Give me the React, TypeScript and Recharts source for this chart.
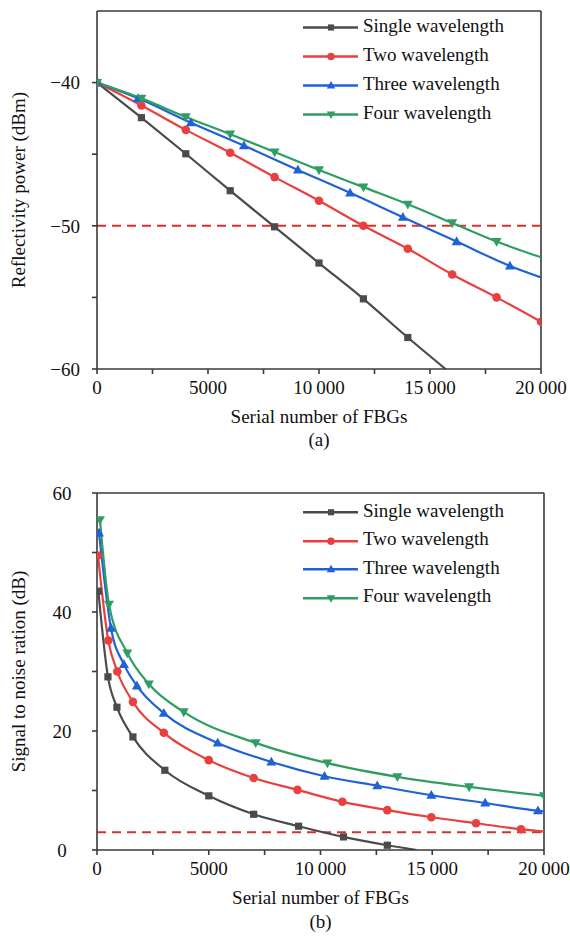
import React from 'react';
import { LineChart, Line, XAxis, YAxis, ReferenceLine } from 'recharts';

const FONT = "'Liberation Serif', 'DejaVu Serif', serif";
const AXIS = '#3a3a3a';
const DASH = '#d9302c';

// legend / series styling
const seriesNames = ['Single wavelength', 'Two wavelength', 'Three wavelength', 'Four wavelength'];
const seriesColors = ['#4b4b4b', '#e8403e', '#1f62d6', '#2f9e62'];
const seriesShapes = ['square', 'circle', 'up', 'down'];

// (a) reflectivity power, dBm
const topSingleX = [0, 2000, 4000, 6000, 8000, 10000, 12000, 14000, 15700];
const topSingleY = [-40, -42.45, -44.97, -47.55, -50.07, -52.6, -55.1, -57.8, -60];
const topTwoX = [0, 2000, 4000, 6000, 8000, 10000, 12000, 14000, 16000, 18000, 20000];
const topTwoY = [-40, -41.6, -43.3, -44.9, -46.6, -48.25, -50.0, -51.6, -53.4, -55.0, -56.7];
const topThreeX = [0, 1850, 4230, 6620, 9050, 11400, 13780, 16200, 18600, 20000];
const topThreeY = [-40, -41.1, -42.8, -44.4, -46.1, -47.7, -49.4, -51.1, -52.8, -53.6];
const topFourX = [0, 2000, 4000, 6000, 8000, 10000, 12000, 14000, 16000, 18000, 20000];
const topFourY = [-40, -41.1, -42.4, -43.6, -44.85, -46.1, -47.3, -48.5, -49.8, -51.1, -52.2];
const topThreshold = -50;
const xTicks = [0, 2500, 5000, 7500, 10000, 12500, 15000, 17500, 20000];
const topYTicks = [-60, -55, -50, -45, -40];

// (b) signal to noise ratio, dB
const botSingleX = [60, 490, 893, 1607, 3036, 5000, 7010, 9020, 11030, 12990, 14300];
const botSingleY = [43.5, 29.1, 24.0, 19.0, 13.4, 9.1, 6.0, 4.0, 2.2, 0.8, 0];
const botTwoX = [45, 506, 909, 1607, 2990, 5000, 7010, 8970, 10980, 12990, 14960, 16960, 18970, 20000];
const botTwoY = [49.5, 35.2, 30.0, 24.9, 19.7, 15.1, 12.1, 10.1, 8.1, 6.7, 5.5, 4.5, 3.5, 3.1];
const botThreeX = [90, 625, 1205, 1786, 2990, 5400, 7800, 10180, 12540, 14960, 17370, 19730, 20000];
const botThreeY = [53.3, 37.3, 31.2, 27.6, 23.0, 18.0, 14.8, 12.4, 10.8, 9.2, 7.9, 6.6, 6.5];
const botFourX = [134, 537, 1356, 2320, 3880, 7100, 10310, 13440, 16650, 20000];
const botFourY = [55.5, 41.3, 33.1, 27.9, 23.2, 18.0, 14.6, 12.3, 10.6, 9.1];
const botThreshold = 3;
const botYTicks = [0, 10, 20, 30, 40, 50, 60];

function makeRows(xs: number[], ys: number[], bare: number[] = []) {
  return xs.map((x, i) => ({ x, y: ys[i], bare: bare.includes(x) }));
}

const topData = [
  makeRows(topSingleX, topSingleY, [15700]),
  makeRows(topTwoX, topTwoY),
  makeRows(topThreeX, topThreeY, [20000]),
  makeRows(topFourX, topFourY, [20000]),
];
const botData = [
  makeRows(botSingleX, botSingleY, [14300]),
  makeRows(botTwoX, botTwoY, [20000]),
  makeRows(botThreeX, botThreeY, [20000]),
  makeRows(botFourX, botFourY),
];

const fmtX = (v: number) => {
  if (v % 5000 !== 0) return '';
  return v >= 10000 ? `${Math.floor(v / 1000)}\u2009${String(v % 1000).padStart(3, '0')}` : String(v);
};

function Marker({ shape, color, cx, cy, s = 1 }: any) {
  if (shape === 'square') return <rect x={cx - 3.6 * s} y={cy - 3.6 * s} width={7.2 * s} height={7.2 * s} fill={color} />;
  if (shape === 'circle') return <circle cx={cx} cy={cy} r={4.3 * s} fill={color} />;
  const d = shape === 'up' ? 1 : -1;
  const pts = `${cx},${cy - 5.2 * s * d} ${cx - 5 * s},${cy + 3.6 * s * d} ${cx + 5 * s},${cy + 3.6 * s * d}`;
  return <polygon points={pts} fill={color} />;
}

const dotFor = (shape: string, color: string) => (props: any) => {
  const { cx, cy, payload, index } = props;
  const key = `${shape}-${index}`;
  if (payload?.bare || cx == null || cy == null) return <g key={key} />;
  return <Marker key={key} shape={shape} color={color} cx={cx} cy={cy} />;
};

// drawn outside the chart so it does not take plot space
function LegendBox({ top, rowHeight }: { top: number; rowHeight: number }) {
  return (
    <div style={{ position: 'absolute', left: 303, top, fontFamily: FONT, fontSize: 19, color: '#111' }}>
      {seriesNames.map((name, i) => (
        <div key={name} style={{ display: 'flex', alignItems: 'center', height: rowHeight }}>
          <svg width={60} height={rowHeight} style={{ flex: 'none' }}>
            <line x1={0} x2={55} y1={rowHeight / 2} y2={rowHeight / 2} stroke={seriesColors[i]} strokeWidth={2.4} />
            <Marker shape={seriesShapes[i]} color={seriesColors[i]} cx={28} cy={rowHeight / 2} s={0.85} />
          </svg>
          <span style={{ lineHeight: 1, position: 'relative', top: -2, whiteSpace: 'nowrap' }}>{name}</span>
        </div>
      ))}
    </div>
  );
}

function YTitle({ viewBox, text }: any) {
  const cy = viewBox.y + viewBox.height / 2;
  return (
    <text x={25} y={cy} transform={`rotate(-90, 25, ${cy})`} textAnchor="middle"
      style={{ fontFamily: FONT, fontSize: 19 }} fill="#111">{text}</text>
  );
}

function XTitle({ viewBox, text, sub, gap }: any) {
  const cx = viewBox.x + viewBox.width / 2;
  return (
    <g style={{ fontFamily: FONT, fontSize: 19 }} fill="#111">
      <text x={cx} y={viewBox.y + 54} textAnchor="middle">{text}</text>
      <text x={cx} y={viewBox.y + gap} textAnchor="middle">{sub}</text>
    </g>
  );
}

const tickStyle = { fill: '#111', fontSize: 19, style: { fontFamily: FONT } };

function Panel({ data, height, margin, plotH, yDomain, yTicks, fmtY, yTickAnchor, yTickMargin, threshold, yTitle, sub, subGap }: any) {
  return (
    <LineChart width={570} height={height} margin={margin}>
      <XAxis dataKey="x" type="number" domain={[0, 20000]} ticks={xTicks} tickFormatter={fmtX}
        allowDataOverflow interval={0} height={height - margin.top - plotH} stroke={AXIS} strokeWidth={1.6}
        tickSize={5} tickMargin={7} tick={tickStyle}
        label={<XTitle text="Serial number of FBGs" sub={sub} gap={subGap} />} />
      <YAxis type="number" domain={yDomain} ticks={yTicks} tickFormatter={fmtY} allowDataOverflow interval={0}
        width={97} stroke={AXIS} strokeWidth={1.6} tickSize={5} tickMargin={yTickMargin}
        tick={{ ...tickStyle, textAnchor: yTickAnchor }}
        label={<YTitle text={yTitle} />} />
      <ReferenceLine y={yDomain[1]} stroke={AXIS} strokeWidth={1.6} />
      <ReferenceLine x={20000} stroke={AXIS} strokeWidth={1.6} />
      <ReferenceLine y={threshold} stroke={DASH} strokeWidth={2} strokeDasharray="9 6" />
      {data.map((rows: any[], i: number) => (
        <Line key={seriesNames[i]} data={rows} dataKey="y" name={seriesNames[i]} type="monotone"
          stroke={seriesColors[i]} strokeWidth={2.2} dot={dotFor(seriesShapes[i], seriesColors[i])}
          activeDot={false} isAnimationActive={false} />
      ))}
    </LineChart>
  );
}

export default function App() {
  return (
    <div style={{ position: 'absolute', left: 0, top: 0, width: 570, height: 937, background: '#fff', overflow: 'hidden' }}>
      <div style={{ position: 'absolute', left: 0, top: 0 }}>
        <Panel data={topData} height={460} margin={{ top: 11, right: 29, bottom: 0, left: 0 }} plotH={358}
          yDomain={[-60, -35]} yTicks={topYTicks}
          fmtY={(v: number) => (v % 10 === 0 ? `\u2212${Math.abs(v)}` : '')}
          yTickAnchor="end" yTickMargin={12} threshold={topThreshold}
          yTitle="Reflectivity power (dBm)" sub="(a)" subGap={77} />
        <LegendBox top={13} rowHeight={29} />
      </div>
      <div style={{ position: 'absolute', left: 0, top: 470 }}>
        <Panel data={botData} height={467} margin={{ top: 23, right: 26, bottom: 0, left: 0 }} plotH={357}
          yDomain={[0, 60]} yTicks={botYTicks}
          fmtY={(v: number) => (v % 20 === 0 ? String(v) : '')}
          yTickAnchor="middle" yTickMargin={30} threshold={botThreshold}
          yTitle="Signal to noise ration (dB)" sub="(b)" subGap={78} />
        <LegendBox top={28} rowHeight={28.5} />
      </div>
    </div>
  );
}
